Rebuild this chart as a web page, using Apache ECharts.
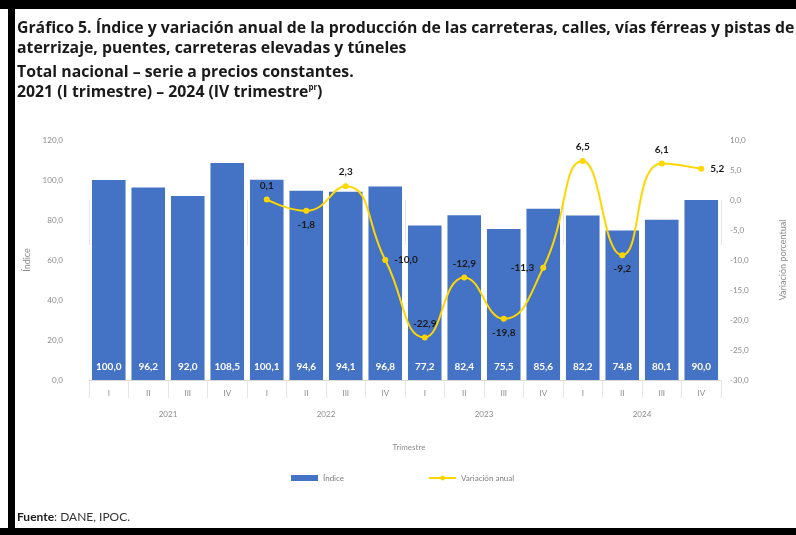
<!DOCTYPE html>
<html><head><meta charset="utf-8">
<script src="https://cdn.jsdelivr.net/npm/echarts@6/dist/echarts.min.js"></script>
<style>html,body{margin:0;padding:0;background:#fff}#c{width:796px;height:535px}</style>
</head><body><div id="c"></div>
<script>
const quarters = ['I','II','III','IV','I','II','III','IV','I','II','III','IV','I','II','III','IV'];
const years = ['2021','2022','2023','2024'];
const indice = [100.0,96.2,92.0,108.5,100.1,94.6,94.1,96.8,77.2,82.4,75.5,85.6,82.2,74.8,80.1,90.0];
const variacion = [null,null,null,null,0.1,-1.8,2.3,-10.0,-22.9,-12.9,-19.8,-11.3,6.5,-9.2,6.1,5.2];
const varLabelPos = [null,null,null,null,'top','bottom','top','right','top','top','bottom','left','top','bottom','top','right'];
const titleLines = [
  'Gráfico 5. Índice y variación anual de la producción de las carreteras, calles, vías férreas y pistas de',
  'aterrizaje, puentes, carreteras elevadas y túneles',
  'Total nacional – serie a precios constantes.',
  '2021 (I trimestre) – 2024 (IV trimestre{sup|pr})'
];
const fmt = v => v.toFixed(1).replace('.', ',');
const chart = echarts.init(document.getElementById('c'));
const FONT = 'Lato, "Liberation Sans", sans-serif';
const TFONT = '"Open Sans", "Liberation Sans", sans-serif';
const titleY = [20, 40, 64, 84];
chart.setOption({
  animation: false,
  textStyle: {fontFamily: FONT},
  graphic: [
    {type:'rect', shape:{x:0,y:0,width:796,height:9}, style:{fill:'#000'}},
    {type:'rect', shape:{x:8,y:0,width:7,height:535}, style:{fill:'#000'}},
    {type:'rect', shape:{x:0,y:528,width:796,height:7}, style:{fill:'#000'}},
    ...titleLines.map((t,i)=>({type:'text', left:17, top:titleY[i], style:{text:t, fontFamily:TFONT, fontWeight:'bold', fontSize:15.8, fill:'#1a1a1a', rich:{sup:{fontFamily:TFONT, fontSize:8, fontWeight:'bold', verticalAlign:'top', padding:[0,0,7,0], fill:'#1a1a1a'}}}})),
    {type:'text', left:17, top:511, style:{text:'{b|Fuente}: DANE, IPOC.', fontFamily:FONT, fontSize:12, fill:'#333', rich:{b:{fontWeight:'bold', fontSize:12, fill:'#1a1a1a', fontFamily:FONT}}}},
    {type:'text', x:409, y:447, style:{text:'Trimestre', fontFamily:FONT, fontSize:8, fill:'#8c8c8c', align:'center', verticalAlign:'middle'}}
  ],
  grid: {left:89, right:67, top:140, bottom:155},
  legend: {
    left: 286, top: 469, itemGap: 84, itemWidth: 27, itemHeight: 6,
    textStyle: {fontSize: 8, color: '#7f7f7f', fontFamily: FONT},
    data: [{name:'Índice', icon:'rect'}, {name:'Variación anual'}]
  },
  xAxis: [
    {type:'category', data: quarters, position:'bottom',
     axisLine:{show:true, lineStyle:{color:'#d9d9d9'}},
     axisTick:{show:true, interval:0, length:18, lineStyle:{color:'#e6e6e6'}},
     axisLabel:{color:'#8c8c8c', fontSize:8, margin:9, interval:0}},
    {type:'category', data: years, position:'bottom',
     axisLine:{show:false},
     axisTick:{show:true, interval:0, length:45, lineStyle:{color:'#e6e6e6'}},
     axisLabel:{color:'#8c8c8c', fontSize:8, margin:30, interval:0}}
  ],
  yAxis: [
    {type:'value', min:0, max:120, interval:20, splitLine:{show:false},
     axisLine:{show:false}, axisTick:{show:false},
     axisLabel:{formatter: fmt, color:'#8c8c8c', fontSize:8, margin:26},
     name:'Índice', nameLocation:'middle', nameGap:46, nameRotate:90,
     nameTextStyle:{color:'#8c8c8c', fontSize:9}},
    {type:'value', min:-30, max:10, interval:5, splitLine:{show:false},
     axisLine:{show:false}, axisTick:{show:false},
     axisLabel:{formatter: fmt, color:'#8c8c8c', fontSize:8, margin:9},
     name:'Variación porcentual', nameLocation:'middle', nameGap:58, nameRotate:90,
     nameTextStyle:{color:'#8c8c8c', fontSize:9}}
  ],
  series: [
    {name:'Índice', type:'bar', xAxisIndex:0, yAxisIndex:0, data: indice,
     barCategoryGap:'15%', itemStyle:{color:'#4472C4'},
     label:{show:true, position:'insideBottom', distance:8, color:'#fff', fontWeight:'bold', fontSize:10, formatter: p=>fmt(p.value)}},
    {name:'Variación anual', type:'line', xAxisIndex:0, yAxisIndex:1, smooth:0.5,
     data: variacion.map((v,i)=> v===null ? null : {value:v, label:{position: varLabelPos[i]}}),
     symbol:'circle', symbolSize:6, lineStyle:{color:'#FFD700', width:2}, itemStyle:{color:'#FFD700'},
     label:{show:true, color:'#1a1a1a', fontWeight:'bold', fontSize:10, distance:6, formatter: p=>fmt(p.value)}}
  ]
});
</script></body></html>
